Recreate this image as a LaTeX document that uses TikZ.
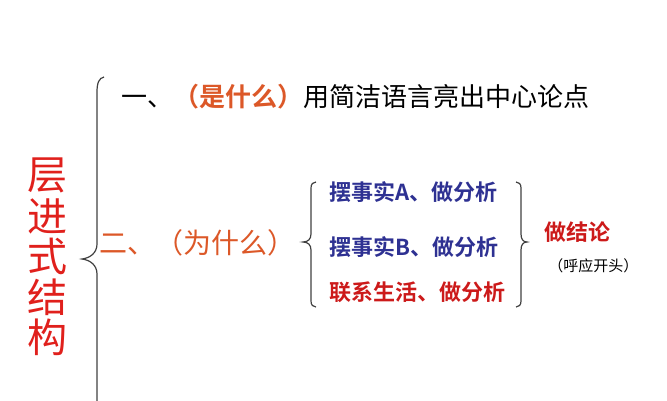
\documentclass[tikz,border=0pt]{standalone}
\usepackage{fontspec}
\setmainfont{Noto Sans CJK SC}[BoldFont={* Bold}]
\usetikzlibrary{positioning}
\definecolor{orred}{HTML}{DC5828}
\definecolor{bigred}{HTML}{E0201C}
\definecolor{deepred}{HTML}{CC1A1A}
\definecolor{navy}{HTML}{2E3192}

\begin{document}
\begin{tikzpicture}[x=0.75pt,y=-0.75pt,
		txt/.style={anchor=west, inner sep=0pt},
		brace/.style={draw=black!75, line width=0.9pt}]
		\useasboundingbox (0,0) rectangle (667,400);
		\clip (0,0) rectangle (667,400);
		
		\foreach \ch [count=\i] in {层,进,式,结,构}
			\node[text=bigred, font=\fontsize{30}{30}\selectfont] (char\i) at (47,{135+40.5*\i}) {\ch};
		
		\draw[brace] (104,77) .. controls (99,78) and (97,83) .. (97,92) -- (97,244) .. controls (97,253) and (90,258) .. (82,259) .. controls (90,260) and (97,265) .. (97,274) -- (97,410);
		
		\node[txt, font=\fontsize{19.5}{20}\selectfont] (first) at (121,97) {一、\textcolor{orred}{\bfseries（是什么）}用简洁语言亮出中心论点};
		\node[txt, text=orred, font=\fontsize{21}{22}\selectfont] (second) at (99,243) {二、（为什么）};
		
		\draw[brace] (316,182) .. controls (313,182) and (311,184) .. (311,188) -- (311,234) .. controls (311,239) and (308,242) .. (303,242) .. controls (308,242) and (311,245) .. (311,250) -- (311,301) .. controls (311,305) and (313,307) .. (316,307);
		
		\node[txt, text=navy, font=\fontsize{16.5}{17}\selectfont\bfseries] (factA) at (329,192) {摆事实A、做分析};
		\node[txt, text=navy, font=\fontsize{16.5}{17}\selectfont\bfseries] (factB) at (329,247) {摆事实B、做分析};
		\node[txt, text=deepred, font=\fontsize{16.5}{17}\selectfont\bfseries] (life) at (329,292) {联系生活、做分析};
		
		\draw[brace] (516,182) .. controls (519,182) and (521,184) .. (521,188) -- (521,234) .. controls (521,239) and (523,242) .. (527,242) .. controls (523,242) and (521,245) .. (521,250) -- (521,301) .. controls (521,305) and (519,307) .. (516,307);
		
		\node[txt, text=deepred, font=\fontsize{16.5}{17}\selectfont\bfseries] (conclude) at (544,232) {做结论};
		\node[txt, font=\fontsize{11.25}{12}\selectfont] (echo) at (548,266) {（呼应开头）};
	\end{tikzpicture}
\end{document}
